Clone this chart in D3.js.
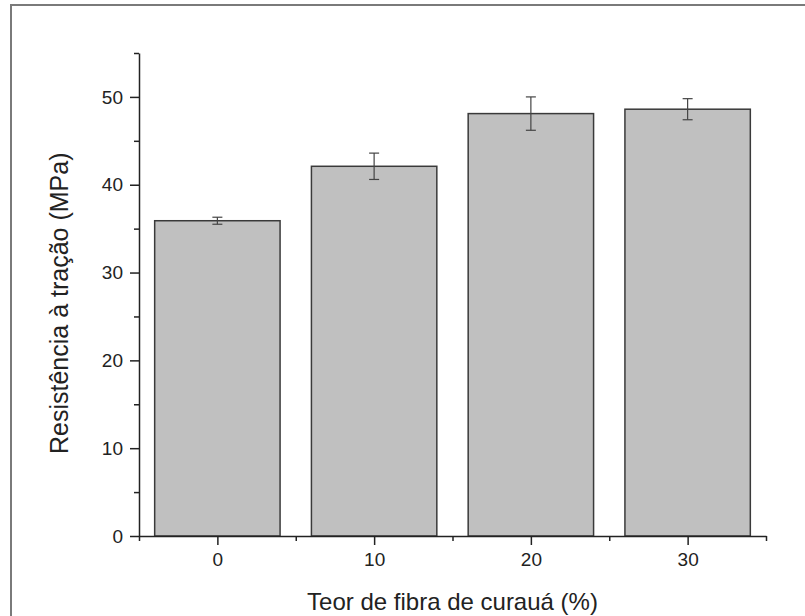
<!DOCTYPE html>
<html>
<head>
<meta charset="utf-8">
<script src="https://cdn.jsdelivr.net/npm/d3@7"></script>
<style>
  body { margin: 0; background: #fff; }
  svg text { font-family: "Liberation Sans", Arial, sans-serif; fill: #222; }
</style>
</head>
<body>
<svg id="chart"></svg>
<script>
// fibre content (%) and tensile strength (MPa) with error
const categories = [0, 10, 20, 30];
const strength = [35.9, 42.1, 48.1, 48.6];
const strengthErr = [0.4, 1.5, 1.9, 1.2];
const yTicks = [0, 10, 20, 30, 40, 50];

const width = 805;
const height = 616;
const svg = d3.select("#chart").attr("width", width).attr("height", height);

const margin = {left: 139, right: 39, top: 53, bottom: 80};

// frame around the figure (runs off the right and bottom edges)
svg.append("rect")
    .attr("x", 11).attr("y", 5)
    .attr("width", 820).attr("height", 640)
    .attr("fill", "none")
    .attr("stroke", "#7a7a7a")
    .attr("stroke-width", 2);

const x = d3.scaleLinear()
    .domain([-5, 35])
    .range([margin.left, width - margin.right]);
const y = d3.scaleLinear()
    .domain([0, 55])
    .range([height - margin.bottom, margin.top]);

const barW = x(8) - x(0);

const g = svg.append("g");

// bars
g.selectAll("rect.bar")
    .data(categories)
    .join("rect")
    .attr("class", "bar")
    .attr("x", d => x(d) - barW / 2)
    .attr("y", (d, i) => y(strength[i]))
    .attr("width", barW)
    .attr("height", (d, i) => y(0) - y(strength[i]))
    .attr("fill", "#c0c0c0")
    .attr("stroke", "#3a3a3a")
    .attr("stroke-width", 1.5);

// error bars
const capW = 10;
const eb = g.selectAll("g.err")
    .data(categories)
    .join("g")
    .attr("class", "err")
    .attr("stroke", "#444")
    .attr("stroke-width", 1.2);
eb.append("line")
    .attr("x1", d => x(d)).attr("x2", d => x(d))
    .attr("y1", (d, i) => y(strength[i] + strengthErr[i]))
    .attr("y2", (d, i) => y(strength[i] - strengthErr[i]));
eb.append("line")
    .attr("x1", d => x(d) - capW / 2).attr("x2", d => x(d) + capW / 2)
    .attr("y1", (d, i) => y(strength[i] + strengthErr[i]))
    .attr("y2", (d, i) => y(strength[i] + strengthErr[i]));
eb.append("line")
    .attr("x1", d => x(d) - capW / 2).attr("x2", d => x(d) + capW / 2)
    .attr("y1", (d, i) => y(strength[i] - strengthErr[i]))
    .attr("y2", (d, i) => y(strength[i] - strengthErr[i]));

// y axis
g.append("g")
    .attr("transform", `translate(${margin.left},0)`)
    .call(d3.axisLeft(y).tickValues(yTicks).tickSize(9).tickPadding(7).tickSizeOuter(0));
g.append("g")
    .attr("transform", `translate(${margin.left},0)`)
    .call(d3.axisLeft(y).tickValues(d3.range(5, 60, 10)).tickSize(5).tickFormat("").tickSizeOuter(0))
    .select(".domain").remove();

// x axis
g.append("g")
    .attr("transform", `translate(0,${y(0)})`)
    .call(d3.axisBottom(x).tickValues(categories).tickSize(9).tickPadding(8).tickSizeOuter(0));
g.append("g")
    .attr("transform", `translate(0,${y(0)})`)
    .call(d3.axisBottom(x).tickValues([-5, 5, 15, 25, 35]).tickSize(5).tickFormat("").tickSizeOuter(0))
    .select(".domain").remove();

g.selectAll(".domain, .tick line")
    .attr("stroke", "#222")
    .attr("stroke-width", 1.5);
g.selectAll(".tick text")
    .style("font-size", "19px")
    .style("font-family", "'Liberation Sans', Arial, sans-serif")
    .attr("fill", "#222");

// axis titles
svg.append("text")
    .attr("x", x(15))
    .attr("y", 610)
    .attr("text-anchor", "middle")
    .style("font-size", "24px")
    .text("Teor de fibra de curauá (%)");

svg.append("text")
    .attr("transform", `translate(68,${y(26.5)}) rotate(-90)`)
    .attr("text-anchor", "middle")
    .style("font-size", "25px")
    .text("Resistência à tração (MPa)");
</script>
</body>
</html>
